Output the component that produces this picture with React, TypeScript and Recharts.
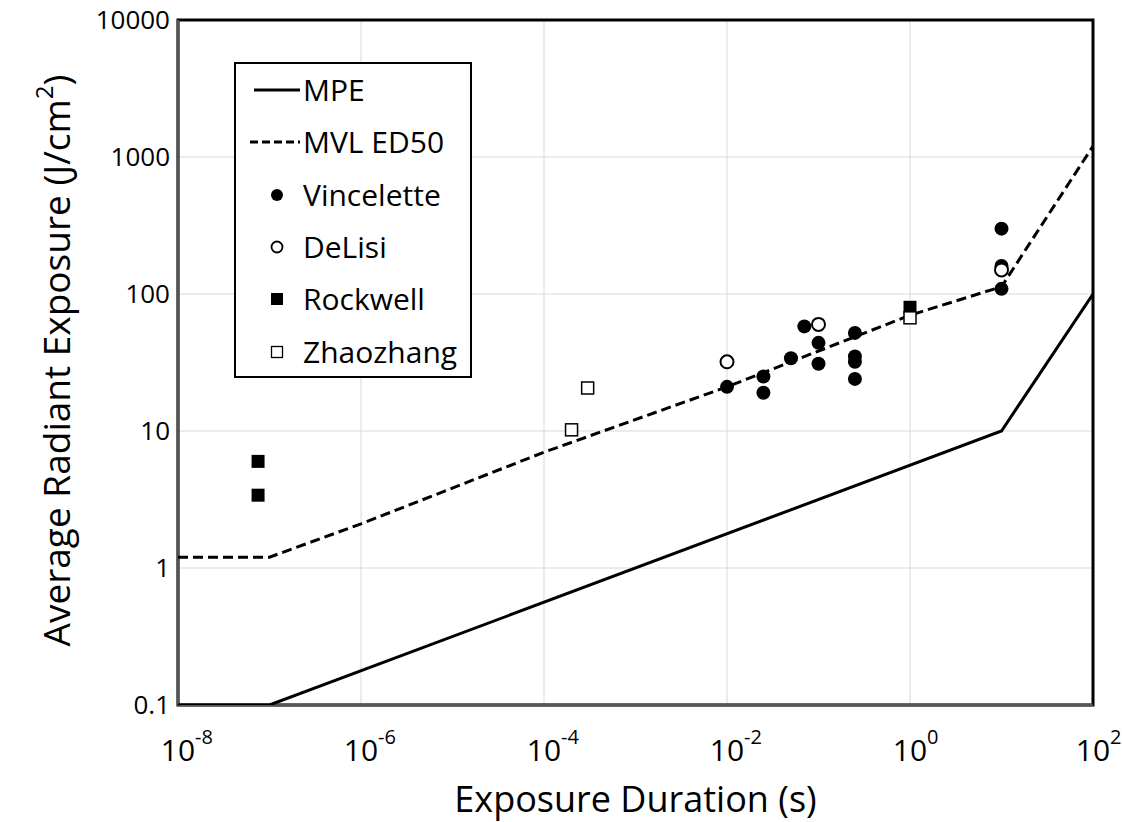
import React from 'react';
import { ScatterChart, Scatter, XAxis, YAxis, CartesianGrid, ReferenceArea, Legend, Label } from 'recharts';

// exposure duration (s) / radiant exposure (J/cm2)
const mpeX = [1e-8, 1e-7, 10, 100];
const mpeY = [0.1, 0.1, 10, 100];
const mvlX = [1e-8, 1e-7, 1e-6, 1e-4, 1e-2, 1, 10, 100];
const mvlY = [1.2, 1.2, 2.1, 7.0, 21, 70, 113, 1200];

const vincX = [0.01, 0.025, 0.025, 0.05, 0.07, 0.1, 0.1, 0.25, 0.25, 0.25, 0.25, 10, 10, 10];
const vincY = [21, 25, 19, 34, 58, 44, 31, 52, 35, 32, 24, 300, 160, 109];
const delisiX = [0.01, 0.1, 10];
const delisiY = [32, 60, 150];
const rockX = [7.5e-8, 7.5e-8, 1];
const rockY = [6.0, 3.4, 80];
const zhaoX = [2e-4, 3e-4, 1];
const zhaoY = [10.2, 20.6, 67];

const xTicks = [1e-8, 1e-6, 1e-4, 1e-2, 1, 100];
const yTicks = [0.1, 1, 10, 100, 1000, 10000];
const yTickLabels = ['0.1', '1', '10', '100', '1000', '10000'];

const legendNames = ['MPE', 'MVL ED50', 'Vincelette', 'DeLisi', 'Rockwell', 'Zhaozhang'];

const zip = (xs: number[], ys: number[]) => xs.map((x, i) => ({ x, y: ys[i] }));

const FONT = '"Open Sans", sans-serif';

const Dot = (p: any) => <circle cx={p.cx} cy={p.cy} r={7} fill="#000" />;
const Ring = (p: any) => <circle cx={p.cx} cy={p.cy} r={6.5} fill="#fff" stroke="#000" strokeWidth={2} />;
const Sq = (p: any) => <rect x={p.cx - 6.5} y={p.cy - 6.5} width={13} height={13} fill="#000" />;
const OpenSq = (p: any) => <rect x={p.cx - 6} y={p.cy - 6} width={12} height={12} fill="#fff" stroke="#000" strokeWidth={1.5} />;
const NoShape = () => <g />;

const XTick = (props: any) => {
  const { x, y, payload } = props;
  const exp = Math.round(Math.log10(payload.value));
  return (
    <g>
      <text x={x} y={y + 56} textAnchor="middle" fontSize={30} fontFamily={FONT} fill="#000">10</text>
      <text x={x + 17} y={y + 39} textAnchor="start" fontSize={20} fontFamily={FONT} fill="#000">{exp}</text>
    </g>
  );
};

const YTick = (props: any) => {
  const { x, y, payload } = props;
  return (
    <text x={x} y={y} dy={9} textAnchor="end" fontSize={26} fontFamily={FONT} fill="#000">
      {yTickLabels[yTicks.indexOf(payload.value)] ?? String(payload.value)}
    </text>
  );
};

const legendIcon = (i: number) => {
  const cy = 13;
  switch (i) {
    case 0: return <line x1={18} y1={cy} x2={64} y2={cy} stroke="#000" strokeWidth={3} />;
    case 1: return <line x1={14} y1={cy} x2={64} y2={cy} stroke="#000" strokeWidth={3} strokeDasharray="8 4" />;
    case 2: return <circle cx={41} cy={cy} r={6} fill="#000" />;
    case 3: return <circle cx={41} cy={cy} r={5.5} fill="#fff" stroke="#000" strokeWidth={1.8} />;
    case 4: return <rect x={35} y={cy - 6} width={12} height={12} fill="#000" />;
    default: return <rect x={35.5} y={cy - 5.5} width={11} height={11} fill="#fff" stroke="#000" strokeWidth={1.3} />;
  }
};

const LegendBox = () => (
  <div style={{ width: 238, height: 316, border: '2px solid #000', boxSizing: 'border-box', background: '#fff', fontFamily: FONT }}>
    {legendNames.map((name, i) => (
      <div key={name} style={{ height: 52.3, display: 'flex', alignItems: 'center' }}>
        <svg width={67} height={26} style={{ flex: 'none' }}>{legendIcon(i)}</svg>
        <span style={{ fontSize: 30, color: '#000', lineHeight: '30px', whiteSpace: 'nowrap' }}>{name}</span>
      </div>
    ))}
  </div>
);

const YTitle = (props: any) => {
  const vb = props.viewBox;
  const cx = vb.x + 55;
  const cy = vb.y + vb.height / 2 - 2;
  return (
    <text x={cx} y={cy} transform={`rotate(-90, ${cx}, ${cy})`} textAnchor="middle" dominantBaseline="central"
      fontSize={37} fontFamily={FONT} fill="#000">
      Average Radiant Exposure (J/cm<tspan dy={-12} fontSize={24}>2</tspan><tspan dy={12}>)</tspan>
    </text>
  );
};

const XTitle = (props: any) => {
  const vb = props.viewBox;
  return (
    <text x={vb.x + vb.width / 2} y={vb.y + 107} textAnchor="middle" fontSize={36} fontFamily={FONT} fill="#000">
      Exposure Duration (s)
    </text>
  );
};

export default function App() {
  return (
    <div>
      <style>{'body{margin:0;overflow:hidden;background:#fff}'}</style>
      <ScatterChart width={1122} height={822} margin={{ top: 20, right: 29, bottom: 0, left: 0 }}>
        <CartesianGrid stroke="#d9d9d9" strokeWidth={1} />
        <XAxis
          type="number" dataKey="x" scale="log" domain={[1e-8, 100]} ticks={xTicks} allowDataOverflow
          height={117} tick={<XTick />} tickLine={false} tickSize={0} tickMargin={0}
          axisLine={{ stroke: '#555', strokeWidth: 3 }}
        >
          <Label content={<XTitle />} />
        </XAxis>
        <YAxis
          type="number" dataKey="y" scale="log" domain={[0.1, 10000]} ticks={yTicks} allowDataOverflow
          width={178} tickLine={false} tickSize={0} tickMargin={8}
          tick={<YTick />}
          axisLine={{ stroke: '#555', strokeWidth: 3 }}
        >
          <Label content={<YTitle />} />
        </YAxis>
        <ReferenceArea x1={1e-8} x2={100} y1={0.1} y2={10000} fill="none" stroke="#000" strokeWidth={3} ifOverflow="visible" />
        <Scatter name="MPE" data={zip(mpeX, mpeY)} shape={NoShape} line={{ stroke: '#000', strokeWidth: 3 }} isAnimationActive={false} />
        <Scatter name="MVL ED50" data={zip(mvlX, mvlY)} shape={NoShape} line={{ stroke: '#000', strokeWidth: 3, strokeDasharray: '10 5' }} isAnimationActive={false} />
        <Scatter name="Vincelette" data={zip(vincX, vincY)} shape={Dot} isAnimationActive={false} />
        <Scatter name="DeLisi" data={zip(delisiX, delisiY)} shape={Ring} isAnimationActive={false} />
        <Scatter name="Rockwell" data={zip(rockX, rockY)} shape={Sq} isAnimationActive={false} />
        <Scatter name="Zhaozhang" data={zip(zhaoX, zhaoY)} shape={OpenSq} isAnimationActive={false} />
        <Legend
          layout="vertical" align="center" verticalAlign="middle"
          content={<LegendBox />}
          wrapperStyle={{ left: 234, top: 62, width: 238, height: 316 }}
        />
      </ScatterChart>
    </div>
  );
}
